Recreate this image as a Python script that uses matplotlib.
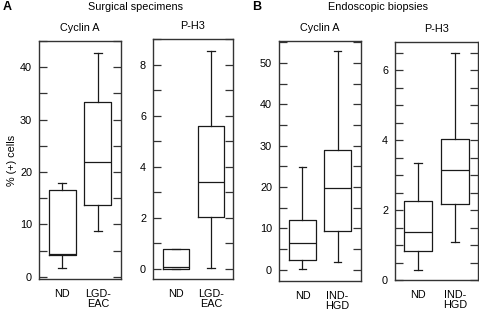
import matplotlib
matplotlib.use('Agg')
import matplotlib.pyplot as plt
from matplotlib.ticker import MultipleLocator

plt.rcParams['font.family'] = ['Liberation Sans', 'DejaVu Sans']

# five-number summaries: (low, q1, median, q3, high)
surg_groups = ['ND', 'LGD-\nEAC']
surg_cyclin = [(1.7, 4.1, 4.4, 16.6, 18.0), (8.8, 13.8, 22.0, 33.3, 42.8)]
surg_ph3 = [(0.0, 0.0, 0.08, 0.78, 0.78), (0.03, 2.03, 3.39, 5.6, 8.52)]

endo_groups = ['ND', 'IND-\nHGD']
endo_cyclin = [(0.2, 2.4, 6.5, 12.1, 24.8), (1.9, 9.5, 19.7, 29.0, 52.9)]
endo_ph3 = [(0.3, 0.84, 1.36, 2.27, 3.33), (1.1, 2.17, 3.13, 4.02, 6.49)]

W, H = 479, 313
FS = 7.8
fig = plt.figure(figsize=(W / 100, H / 100), dpi=100)


def add_panel(px, title, data, groups, ylim, major, minor, xlim=(0.35, 2.65)):
    left, right, top, bottom = px
    ax = fig.add_axes([left / W, 1 - bottom / H, (right - left) / W, (bottom - top) / H])
    stats = [dict(whislo=d[0], q1=d[1], med=d[2], q3=d[3], whishi=d[4], fliers=[])
             for d in data]
    line = dict(color='#1a1a1a', linewidth=0.9)
    ax.bxp(stats, positions=[1, 2], widths=0.75, capwidths=0.22,
           boxprops=line, medianprops=line, whiskerprops=line, capprops=line,
           showfliers=False)
    ax.set_xlim(*xlim)
    ax.set_ylim(*ylim)
    ax.yaxis.set_major_locator(MultipleLocator(major))
    ax.yaxis.set_minor_locator(MultipleLocator(minor))
    ax.tick_params(axis='y', which='both', direction='in', left=True, right=True,
                   length=6, width=0.9, labelsize=FS, pad=5, color='#333333')
    ax.set_xticks([1, 2])
    ax.set_xticklabels(groups, fontsize=FS, linespacing=1.0)
    ax.tick_params(axis='x', length=0, pad=7)
    for s in ax.spines.values():
        s.set_linewidth(1.0)
        s.set_color('#333333')
    ax.set_title(title, fontsize=FS, pad=7)
    return ax


ax1 = add_panel((39, 121, 41, 279), 'Cyclin A', surg_cyclin, surg_groups, (-0.4, 45), 10, 5)
ax2 = add_panel((153, 233, 39, 279), 'P-H3', surg_ph3, surg_groups, (-0.4, 9.0), 2, 1,
                xlim=(0.34, 2.63))
ax3 = add_panel((279, 361, 41, 281), 'Cyclin A', endo_cyclin, endo_groups, (-2.7, 55.3), 10, 5,
                xlim=(0.33, 2.67))
ax4 = add_panel((395, 478, 42, 280), 'P-H3', endo_ph3, endo_groups, (0, 6.8), 2, 0.5,
                xlim=(0.38, 2.62))

ax1.set_ylabel('% (+) cells', fontsize=FS, labelpad=2)

fig.text(136 / W, 1 - 7 / H, 'Surgical specimens', ha='center', va='center', fontsize=FS)
fig.text(378 / W, 1 - 7 / H, 'Endoscopic biopsies', ha='center', va='center', fontsize=FS)
fig.text(3 / W, 1 - 7 / H, 'A', ha='left', va='center', fontsize=9, fontweight='bold')
fig.text(252 / W, 1 - 7 / H, 'B', ha='left', va='center', fontsize=9, fontweight='bold')

fig.savefig('out.png', dpi=100)
